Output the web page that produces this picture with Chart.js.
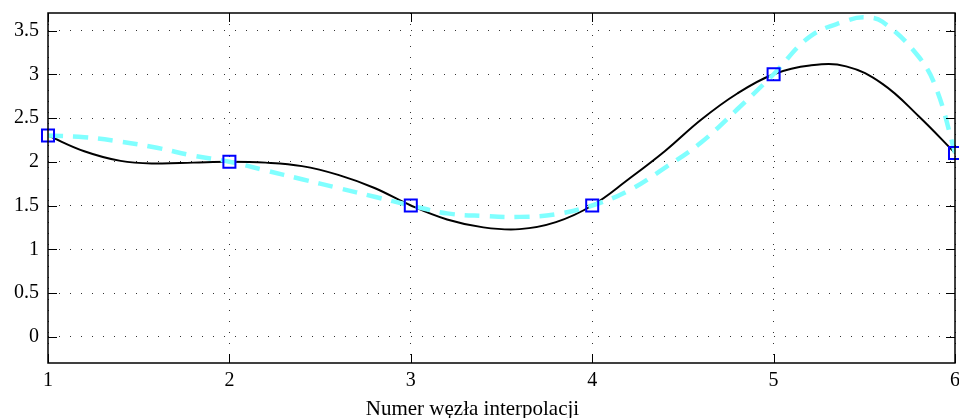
<!DOCTYPE html>
<html>
<head>
<meta charset="utf-8">
<script src="https://cdn.jsdelivr.net/npm/chart.js@4/dist/chart.umd.min.js"></script>
<style>
  html, body { margin: 0; padding: 0; background: #fff; }
  #wrap { width: 959px; height: 418px; position: relative; }
</style>
</head>
<body>
<div id="wrap"><canvas id="chart"></canvas></div>
<script>
// interpolation nodes
const nodeX = [1, 2, 3, 4, 5, 6];
const nodeY = [2.3, 2.0, 1.5, 1.5, 3.0, 2.1];

// solid black curve
const splineX = [1, 1.2, 1.4, 1.6, 1.8, 2, 2.2, 2.4, 2.6, 2.8, 3, 3.2, 3.4, 3.6, 3.8, 4, 4.2, 4.4, 4.6, 4.8, 5, 5.2, 5.4, 5.6, 5.8, 6];
const splineY = [2.30, 2.12, 2.01, 1.98, 1.99, 2.00, 1.99, 1.95, 1.85, 1.70, 1.50, 1.34, 1.25, 1.23, 1.31, 1.50, 1.80, 2.12, 2.48, 2.78, 3.00, 3.10, 3.09, 2.89, 2.52, 2.10];

// dashed cyan curve
const dashX = [1, 1.2, 1.4, 1.6, 1.8, 2, 2.2, 2.4, 2.6, 2.8, 3, 3.2, 3.4, 3.6, 3.8, 4, 4.2, 4.4, 4.6, 4.8, 5, 5.2, 5.4, 5.5, 5.6, 5.8, 5.9, 6];
const dashY = [2.30, 2.28, 2.23, 2.16, 2.07, 2.00, 1.90, 1.80, 1.70, 1.60, 1.50, 1.41, 1.38, 1.37, 1.40, 1.50, 1.67, 1.93, 2.22, 2.60, 3.00, 3.43, 3.61, 3.65, 3.60, 3.20, 2.82, 2.10];

const xTicks = [1, 2, 3, 4, 5, 6];
const yTicks = [0, 0.5, 1, 1.5, 2, 2.5, 3, 3.5];
const xTitle = 'Numer węzła interpolacji';

const pts = (xs, ys) => xs.map((x, i) => ({ x, y: ys[i] }));
const FONT = '"Liberation Serif", "Times New Roman", serif';

// MATLAB-style box with inward ticks, plus the x label
const boxPlugin = {
  id: 'box',
  afterDraw(chart) {
    const { ctx, chartArea: a, scales } = chart;
    ctx.save();
    ctx.strokeStyle = '#000';
    ctx.lineWidth = 1.5;
    ctx.strokeRect(a.left, a.top, a.right - a.left, a.bottom - a.top);
    ctx.lineWidth = 1;
    const len = 9;
    ctx.beginPath();
    scales.x.ticks.forEach((t) => {
      const px = Math.round(scales.x.getPixelForValue(t.value)) + 0.5;
      ctx.moveTo(px, a.bottom); ctx.lineTo(px, a.bottom - len);
      ctx.moveTo(px, a.top); ctx.lineTo(px, a.top + len);
    });
    scales.y.ticks.forEach((t) => {
      const py = Math.round(scales.y.getPixelForValue(t.value)) + 0.5;
      ctx.moveTo(a.left, py); ctx.lineTo(a.left + len, py);
      ctx.moveTo(a.right, py); ctx.lineTo(a.right - len, py);
    });
    ctx.stroke();
    ctx.fillStyle = '#000';
    ctx.font = '21px ' + FONT;
    ctx.textAlign = 'center';
    ctx.textBaseline = 'alphabetic';
    ctx.fillText(xTitle, a.left + (a.right - a.left) * 0.468, 415);
    ctx.restore();
  }
};

new Chart(document.getElementById('chart'), {
  type: 'line',
  data: {
    datasets: [
      {
        data: pts(nodeX, nodeY),
        showLine: false,
        pointStyle: 'rect',
        pointRadius: 8.5,
        pointBorderWidth: 2,
        pointBorderColor: '#0000ff',
        pointBackgroundColor: 'rgba(0,0,0,0)',
        clip: false,
        order: 0
      },
      {
        data: pts(dashX, dashY),
        borderColor: '#80ffff',
        borderWidth: 4.5,
        borderDash: [15, 10],
        pointRadius: 0,
        tension: 0.4,
        order: 1
      },
      {
        data: pts(splineX, splineY),
        borderColor: '#000',
        borderWidth: 2,
        pointRadius: 0,
        tension: 0.4,
        order: 2
      }
    ]
  },
  plugins: [boxPlugin],
  options: {
    responsive: true,
    maintainAspectRatio: false,
    animation: false,
    events: [],
    layout: { autoPadding: false, padding: { top: 13, right: 4, left: 0, bottom: 0 } },
    plugins: { legend: { display: false }, tooltip: { enabled: false } },
    scales: {
      x: {
        type: 'linear',
        min: 1,
        max: 6,
        afterBuildTicks: (s) => { s.ticks = xTicks.map((v) => ({ value: v })); },
        afterFit: (s) => { s.height = 55; s.paddingLeft = 0; s.paddingRight = 0; },
        ticks: { color: '#000', font: { family: FONT, size: 20 }, padding: 6, maxRotation: 0 },
        grid: { color: '#333', lineWidth: 1, drawTicks: false },
        border: { display: false, dash: [1, 10] }
      },
      y: {
        type: 'linear',
        min: -0.3,
        max: 3.7,
        afterBuildTicks: (s) => { s.ticks = yTicks.map((v) => ({ value: v })); },
        afterFit: (s) => { s.width = 48; s.paddingTop = 0; s.paddingBottom = 0; },
        ticks: { color: '#000', font: { family: FONT, size: 20 }, padding: 9, callback: (v) => String(v) },
        grid: { color: '#333', lineWidth: 1, drawTicks: false },
        border: { display: false, dash: [1, 10] }
      }
    }
  }
});
</script>
</body>
</html>
